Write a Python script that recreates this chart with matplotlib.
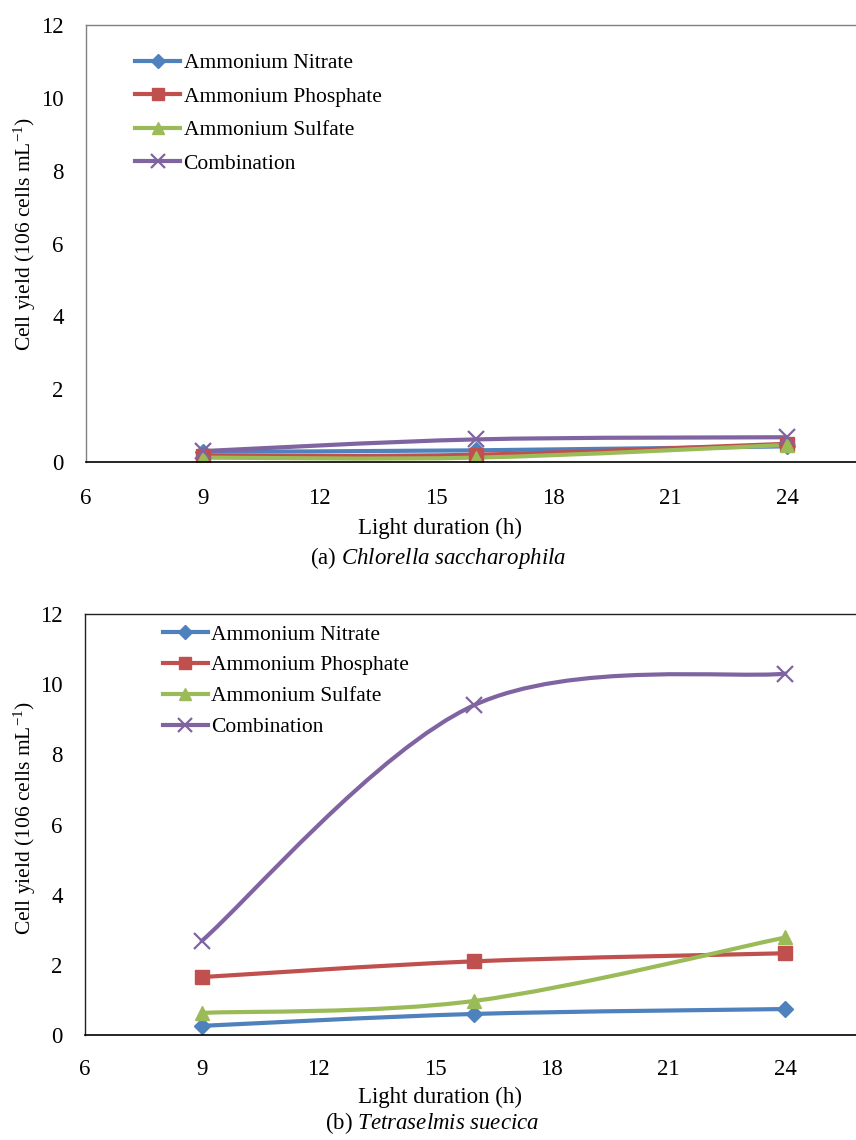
import numpy as np
import matplotlib.pyplot as plt
from matplotlib.path import Path
from matplotlib.patches import PathPatch
from matplotlib.lines import Line2D

plt.rcParams['font.family'] = ['Liberation Serif', 'DejaVu Serif']
plt.rcParams['mathtext.fontset'] = 'custom'
plt.rcParams['mathtext.rm'] = 'Liberation Serif'
plt.rcParams['mathtext.it'] = 'Liberation Serif:italic'

# data
hours = [9, 16, 24]
series = ['Ammonium Nitrate', 'Ammonium Phosphate', 'Ammonium Sulfate', 'Combination']

chlorella_nitrate = [0.28, 0.32, 0.43]
chlorella_phosphate = [0.17, 0.2, 0.5]
chlorella_sulfate = [0.12, 0.12, 0.47]
chlorella_combination = [0.3, 0.62, 0.68]

tetra_nitrate = [0.26, 0.6, 0.74]
tetra_phosphate = [1.65, 2.1, 2.33]
tetra_sulfate = [0.63, 0.97, 2.78]
tetra_combination = [2.68, 9.4, 10.3]

colors = ['#4F81BD', '#C0504D', '#9BBB59', '#8064A2']
markers = ['D', 's', '^', 'x']
msizes = [8.5, 10.5, 10.5, 11]

x_ticks = [6, 9, 12, 15, 18, 21, 24]
y_ticks = [0, 2, 4, 6, 8, 10, 12]

FS = 16.5
W, H = 856., 1140.


def smooth_path(x, y, t=1/6.):
  # excel style smoothed line as bezier segments
  pts = np.column_stack([x, y]).astype(float)
  n = len(pts)
  verts = [pts[0]]
  codes = [Path.MOVETO]
  for i in range(n - 1):
    p0 = pts[i - 1] if i > 0 else pts[i]
    p1 = pts[i]
    p2 = pts[i + 1]
    p3 = pts[i + 2] if i + 2 < n else pts[i + 1]
    c1 = p1 + (p2 - p0) * t
    c2 = p2 - (p3 - p1) * t
    verts += [c1, c2, p2]
    codes += [Path.CURVE4] * 3
  return Path(verts, codes)


def draw_panel(ax, data, legend_anchor, spacing, spine_color, xpad, ylab_y, xlab_top):
  handles = []
  for vals, c, m, ms, name in zip(data, colors, markers, msizes, series):
    patch = PathPatch(smooth_path(hours, vals), facecolor='none', edgecolor=c,
                      lw=3, capstyle='round', joinstyle='round')
    ax.add_patch(patch)
    mew = 1.6 if m == 'x' else 1
    ax.plot(hours, vals, linestyle='none', marker=m, markersize=ms, color=c,
            markeredgewidth=mew, markeredgecolor=c)
    handles.append(Line2D([], [], color=c, lw=3, marker=m, markersize=ms - 1.5,
                          markeredgewidth=mew, markeredgecolor=c))
  ax.set_xlim(6, 27)
  ax.set_ylim(0, 12)
  ax.set_xticks(x_ticks)
  ax.set_yticks(y_ticks)
  ax.tick_params(length=0, labelsize=FS)
  ax.tick_params(axis='y', pad=16)
  ax.tick_params(axis='x', pad=xpad)
  for s in ['top', 'left', 'right']:
    ax.spines[s].set_color(spine_color)
    ax.spines[s].set_linewidth(1)
  ax.spines['bottom'].set_color('black')
  ax.spines['bottom'].set_linewidth(1.2)
  ax.set_xlabel('Light duration (h)', fontsize=FS)
  ax.xaxis.set_label_coords(440 / W, 1 - xlab_top / H, transform=fig.transFigure)
  ax.set_ylabel(r'Cell yield (106 cells mL$^{-1}$)', fontsize=15.5)
  ax.yaxis.set_label_coords(38 / W, 1 - ylab_y / H, transform=fig.transFigure)
  ax.legend(handles, series, loc='upper left', bbox_to_anchor=legend_anchor,
            frameon=False, fontsize=15.5, handlelength=2.1, handletextpad=0.15,
            labelspacing=spacing, borderaxespad=0, borderpad=0)


fig = plt.figure(figsize=(8.56, 11.4), dpi=100)

ax1 = fig.add_axes([86 / W, 1 - 462 / H, (904 - 86) / W, 437 / H])
draw_panel(ax1, [chlorella_nitrate, chlorella_phosphate, chlorella_sulfate,
                 chlorella_combination], (0.06, 0.935), 0.62, '#808080', 19,
           234, 518)
fig.text(438 / W, 1 - 558 / H, r'(a) $\it{Chlorella\ saccharophila}$',
         ha='center', va='center', fontsize=FS)

ax2 = fig.add_axes([85 / W, 1 - 1035 / H, (902 - 85) / W, 421 / H])
draw_panel(ax2, [tetra_nitrate, tetra_phosphate, tetra_sulfate,
                 tetra_combination], (0.095, 0.975), 0.5, '#202020', 17,
           818, 1087)
fig.text(432 / W, 1 - 1123 / H, r'(b) $\it{Tetraselmis\ suecica}$',
         ha='center', va='center', fontsize=FS)

fig.savefig('out.png', dpi=100)
